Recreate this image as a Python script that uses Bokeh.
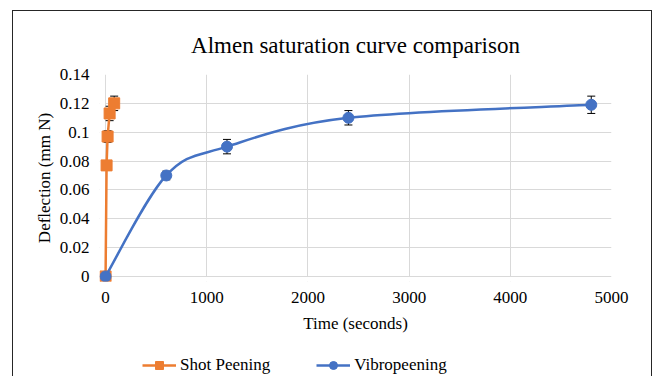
from bokeh.plotting import figure
from bokeh.layouts import column
from bokeh.models import (ColumnDataSource, Whisker, TeeHead, Legend, LegendItem,
                          FixedTicker, CustomJSTickFormatter, BoxAnnotation)
from bokeh.embed import file_html
from bokeh.resources import INLINE

# ---- data ----
shot_time = [0, 10, 20, 40, 85]
shot_defl = [0.0, 0.077, 0.097, 0.113, 0.120]
shot_err = [0.0, 0.003, 0.004, 0.005, 0.005]

vibro_time = [0, 600, 1200, 2400, 4800]
vibro_defl = [0.0, 0.070, 0.090, 0.110, 0.119]
vibro_err = [0.0, 0.003, 0.005, 0.005, 0.006]

x_ticks = [0, 1000, 2000, 3000, 4000, 5000]
y_ticks = [0, 0.02, 0.04, 0.06, 0.08, 0.1, 0.12, 0.14]

series_names = ["Shot Peening", "Vibropeening"]

ORANGE = "#ED7D31"
BLUE = "#4472C4"
FONT = "Liberation Serif"

# ---- Excel-like smoothing (Catmull-Rom -> cubic Bezier) ----
def bezier_segments(xs, ys):
    n = len(xs)
    x0, y0, x1, y1, cx0, cy0, cx1, cy1 = ([] for _ in range(8))
    for i in range(n - 1):
        p0 = (xs[max(i - 1, 0)], ys[max(i - 1, 0)])
        p1 = (xs[i], ys[i])
        p2 = (xs[i + 1], ys[i + 1])
        p3 = (xs[min(i + 2, n - 1)], ys[min(i + 2, n - 1)])
        x0.append(p1[0]); y0.append(p1[1])
        x1.append(p2[0]); y1.append(p2[1])
        cx0.append(p1[0] + (p2[0] - p0[0]) / 6.0)
        cy0.append(p1[1] + (p2[1] - p0[1]) / 6.0)
        cx1.append(p2[0] - (p3[0] - p1[0]) / 6.0)
        cy1.append(p2[1] - (p3[1] - p1[1]) / 6.0)
    return dict(x0=x0, y0=y0, x1=x1, y1=y1, cx0=cx0, cy0=cy0, cx1=cx1, cy1=cy1)

# small padding on the left/bottom so markers at 0 are not clipped
p = figure(frame_width=512, frame_height=207, output_backend="svg", toolbar_location=None,
           x_range=(-60, 5000), y_range=(-0.0035, 0.14),
           min_border_left=86, min_border_right=40, min_border_top=63,
           min_border_bottom=60)
p.outline_line_color = None
p.background_fill_color = "white"
p.border_fill_color = "white"

# title
p.title.text = "Almen saturation curve comparison"
p.title.text_font = FONT
p.title.text_font_size = "23px"
p.title.text_font_style = "normal"
p.title.text_color = "black"
p.title.align = "center"
p.title.standoff = 34

# axes
for ax in (p.xaxis, p.yaxis):
    ax.axis_line_color = None
    ax.major_tick_line_color = None
    ax.minor_tick_line_color = None
    ax.major_label_text_font = FONT
    ax.major_label_text_font_size = "17px"
    ax.major_label_text_color = "black"
    ax.axis_label_text_font = FONT
    ax.axis_label_text_font_size = "17px"
    ax.axis_label_text_font_style = "normal"
    ax.axis_label_text_color = "black"
p.xaxis.ticker = FixedTicker(ticks=x_ticks)
p.yaxis.ticker = FixedTicker(ticks=y_ticks)
p.yaxis.formatter = CustomJSTickFormatter(code="return String(Math.round(tick*100)/100);")
p.xaxis.axis_label = "Time (seconds)"
p.yaxis.axis_label = "Deflection (mm N)"
p.xaxis.major_label_standoff = 4
p.yaxis.major_label_standoff = 4
p.xaxis.axis_label_standoff = 8
p.yaxis.axis_label_standoff = 3

p.xgrid.ticker = FixedTicker(ticks=x_ticks)
p.ygrid.ticker = FixedTicker(ticks=y_ticks)
for g in (p.xgrid, p.ygrid):
    g.grid_line_color = "#D9D9D9"
    g.grid_line_width = 1

# white masks over the padding strips so the grid ends at the axes
p.add_layout(BoxAnnotation(right=-5, fill_color="white", fill_alpha=1,
                           line_color=None, level="underlay"))
p.add_layout(BoxAnnotation(top=-0.0004, fill_color="white", fill_alpha=1,
                           line_color=None, level="underlay"))

# shot peening
s_src = ColumnDataSource(dict(x=shot_time, y=shot_defl,
                              lo=[a - b for a, b in zip(shot_defl, shot_err)],
                              hi=[a + b for a, b in zip(shot_defl, shot_err)]))
p.line("x", "y", source=s_src, line_color=ORANGE, line_width=2.5)
p.add_layout(Whisker(source=s_src, base="x", lower="lo", upper="hi", line_color="black",
                     line_width=1,
                     upper_head=TeeHead(size=8, line_color="black", line_width=1),
                     lower_head=TeeHead(size=8, line_color="black", line_width=1)))
p.scatter("x", "y", source=s_src, marker="square", size=11,
          fill_color=ORANGE, line_color=ORANGE)

# vibropeening
v_src = ColumnDataSource(dict(x=vibro_time, y=vibro_defl,
                              lo=[a - b for a, b in zip(vibro_defl, vibro_err)],
                              hi=[a + b for a, b in zip(vibro_defl, vibro_err)]))
b_src = ColumnDataSource(bezier_segments(vibro_time, vibro_defl))
p.bezier(x0="x0", y0="y0", x1="x1", y1="y1", cx0="cx0", cy0="cy0",
         cx1="cx1", cy1="cy1", source=b_src, line_color=BLUE, line_width=2.5)
p.add_layout(Whisker(source=v_src, base="x", lower="lo", upper="hi", line_color="black",
                     line_width=1,
                     upper_head=TeeHead(size=8, line_color="black", line_width=1),
                     lower_head=TeeHead(size=8, line_color="black", line_width=1)))
p.scatter("x", "y", source=v_src, marker="circle", size=11,
          fill_color=BLUE, line_color=BLUE)

# ---- legend strip (separate small canvas below the chart) ----
lg = figure(width=638, height=35, output_backend="svg", toolbar_location=None,
            x_range=(0, 1), y_range=(0, 1), x_axis_location=None, y_axis_location=None,
            min_border=0)
lg.outline_line_color = None
lg.background_fill_color = "white"
lg.border_fill_color = "white"
lg.xgrid.visible = False
lg.ygrid.visible = False
# legend proxies, kept outside the visible range of the strip
proxy = ColumnDataSource(dict(x=[-1], y=[-1]))
sl = lg.line("x", "y", source=proxy, line_color=ORANGE, line_width=2.5)
sm = lg.scatter("x", "y", source=proxy, marker="square", size=11,
                fill_color=ORANGE, line_color=ORANGE)
vl = lg.line("x", "y", source=proxy, line_color=BLUE, line_width=2.5)
vm = lg.scatter("x", "y", source=proxy, marker="circle", size=11,
                fill_color=BLUE, line_color=BLUE)

legend = Legend(items=[LegendItem(label=series_names[0], renderers=[sl, sm]),
                       LegendItem(label=series_names[1], renderers=[vl, vm])],
                orientation="horizontal", location=(43, 1))
legend.label_text_font = FONT
legend.label_text_font_size = "17px"
legend.label_text_color = "black"
legend.glyph_width = 34
legend.glyph_height = 20
legend.label_standoff = 4
legend.spacing = 46
legend.border_line_color = None
legend.background_fill_alpha = 0
legend.margin = 0
legend.padding = 0
lg.add_layout(legend, "center")

layout = column(p, lg, styles={"margin-left": "12px", "margin-top": "10px",
                               "border-left": "1px solid #262626",
                               "border-right": "1px solid #262626",
                               "border-top": "1px solid #262626"})

open("out.html", "w").write(file_html(layout, INLINE))
